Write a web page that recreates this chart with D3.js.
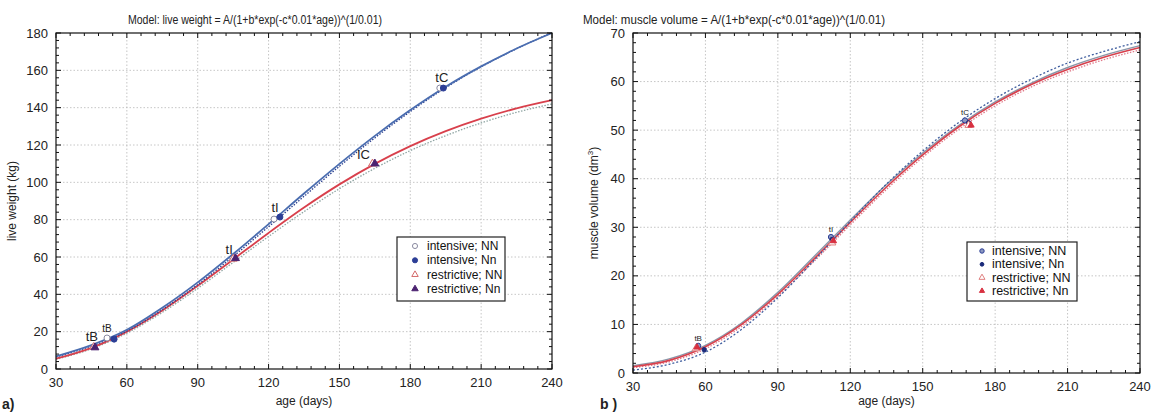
<!doctype html>
<html>
<head>
<meta charset="utf-8"/>
<style>
  body { margin: 0; background: #fff; }
  svg { font-family: "Liberation Sans", Arial, sans-serif; }
  .grid line { stroke: #b8b8b8; stroke-dasharray: 1.5,2; stroke-width: 0.8; }
  .tick-lbl { font-size: 13px; fill: #222; }
</style>
<script src="https://d3js.org/d3.v7.min.js"></script>
</head>
<body>
<svg width="1154" height="413"></svg>
<script>

var ages = [30, 45, 60, 75, 90, 105, 120, 135, 150, 165, 180, 195, 210, 225, 240];

// live weight (kg)
var lwIntNN  = [6.8, 12.8, 21.0, 32.8, 46.4, 61.6, 77.6, 94.0, 109.9, 124.9, 138.7, 151.2, 162.1, 171.7, 180.0];
var lwIntNn  = [6.5, 12.3, 20.3, 31.8, 45.2, 60.3, 76.2, 92.5, 108.6, 123.8, 137.9, 150.7, 161.9, 171.6, 180.2];
var lwResNN  = [5.5, 11.3, 20.0, 31.4, 44.6, 58.7, 72.9, 86.5, 98.9, 109.9, 119.4, 127.4, 134.1, 139.6, 144.0];
var lwResNn  = [5.2, 10.8, 19.2, 30.3, 43.2, 57.1, 71.0, 84.3, 96.6, 107.5, 117.0, 125.0, 131.8, 137.5, 142.0];

// muscle volume (dm3)
var mvIntNN  = [1.5, 2.9, 5.7, 10.3, 16.6, 24.0, 31.5, 38.8, 45.3, 51.0, 55.8, 59.7, 62.9, 65.4, 67.4];
var mvIntNn  = [0.6, 1.8, 4.3, 9.0, 15.5, 23.2, 31.2, 38.9, 45.7, 51.6, 56.5, 60.5, 63.8, 66.2, 68.2];
var mvResNN  = [1.3, 2.6, 5.4, 10.0, 16.2, 23.5, 31.0, 38.3, 44.9, 50.7, 55.5, 59.4, 62.5, 65.0, 67.0];
var mvResNn  = [1.1, 2.3, 5.0, 9.6, 15.8, 23.0, 30.5, 37.8, 44.4, 50.2, 55.0, 58.9, 62.0, 64.5, 66.5];

// characteristic points [age, value] : tB, tI, tC
var lwPtsIntNN = [[51.6, 16.6], [122.3, 80.3], [192.5, 150.5]];
var lwPtsIntNn = [[54.6, 16.0], [124.8, 81.4], [194.0, 150.5]];
var lwPtsResNN = [[46.0, 11.8], [105.0, 59.0], [164.0, 110.0]];
var lwPtsResNn = [[46.5, 11.5], [106.0, 59.3], [165.0, 110.0]];

var mvPtsIntNN = [[57.0, 5.6], [112.0, 28.0], [167.5, 52.0]];
var mvPtsIntNn = [[59.5, 4.8], [112.5, 27.5], [169.0, 51.5]];
var mvPtsResNN = [[56.0, 5.0], [112.5, 26.8], [169.0, 51.0]];
var mvPtsResNn = [[56.5, 5.3], [113.0, 27.2], [170.0, 51.0]];

var legendLabels = ["intensive; NN", "intensive; Nn", "restrictive; NN", "restrictive; Nn"];
var xTicks = [30, 60, 90, 120, 150, 180, 210, 240];
var lwTicks = [0, 20, 40, 60, 80, 100, 120, 140, 160, 180];
var mvTicks = [0, 10, 20, 30, 40, 50, 60, 70];

var svg = d3.select("svg");

function panel(cfg) {
    var g = svg.append("g");
    var x = d3.scaleLinear().domain([30, 240]).range([cfg.L, cfg.R]);
    var y = d3.scaleLinear().domain([0, cfg.ymax]).range([cfg.B, cfg.T]);

    // grid
    var grid = g.append("g").attr("class", "grid");
    grid.selectAll(".gx").data(xTicks.slice(1, -1)).join("line")
        .attr("x1", d => x(d)).attr("x2", d => x(d)).attr("y1", cfg.T).attr("y2", cfg.B);
    grid.selectAll(".gy").data(cfg.yTicks.slice(1, -1)).join("line")
        .attr("y1", d => y(d)).attr("y2", d => y(d)).attr("x1", cfg.L).attr("x2", cfg.R);

    // lines
    var line = d3.line().x(d => x(d[0])).y(d => y(d[1])).curve(d3.curveMonotoneX);
    cfg.series.forEach(function(s) {
        g.append("path")
            .datum(ages.map((a, i) => [a, s.values[i]]))
            .attr("d", line)
            .attr("fill", "none")
            .attr("stroke", s.color)
            .attr("stroke-width", s.width)
            .attr("stroke-dasharray", s.dash || null);
    });

    // frame and inward ticks
    g.append("rect").attr("x", cfg.L).attr("y", cfg.T)
        .attr("width", cfg.R - cfg.L).attr("height", cfg.B - cfg.T)
        .attr("fill", "none").attr("stroke", "#111").attr("stroke-width", 1.2);

    var xMinor = d3.range(30, 240.1, 6);
    var yMinor = d3.range(0, cfg.ymax + 0.01, cfg.yMinorStep);
    var tk = g.append("g").attr("stroke", "#111").attr("stroke-width", 1);
    xMinor.forEach(function(v) {
        var len = (v - 30) % 30 === 0 ? 5 : 3;
        tk.append("line").attr("x1", x(v)).attr("x2", x(v)).attr("y1", cfg.B).attr("y2", cfg.B - len);
        tk.append("line").attr("x1", x(v)).attr("x2", x(v)).attr("y1", cfg.T).attr("y2", cfg.T + len);
    });
    yMinor.forEach(function(v) {
        var len = cfg.yTicks.indexOf(Math.round(v * 100) / 100) >= 0 ? 5 : 3;
        tk.append("line").attr("y1", y(v)).attr("y2", y(v)).attr("x1", cfg.L).attr("x2", cfg.L + len);
        tk.append("line").attr("y1", y(v)).attr("y2", y(v)).attr("x1", cfg.R).attr("x2", cfg.R - len);
    });

    // tick labels
    g.selectAll(".xl").data(xTicks).join("text").attr("class", "tick-lbl")
        .attr("x", d => x(d)).attr("y", cfg.B + 18).attr("text-anchor", "middle").text(d => d);
    g.selectAll(".yl").data(cfg.yTicks).join("text").attr("class", "tick-lbl")
        .attr("x", cfg.L - 8).attr("y", d => y(d) + 4.5).attr("text-anchor", "end").text(d => d);

    // axis titles
    g.append("text").attr("x", (cfg.L + cfg.R) / 2).attr("y", 405)
        .attr("text-anchor", "middle").attr("font-size", 12).attr("fill", "#222").text("age (days)");
    var yt = g.append("text")
        .attr("transform", "translate(" + cfg.yTitleX + "," + (cfg.T + cfg.B) / 2 + ") rotate(-90)")
        .attr("text-anchor", "middle").attr("font-size", 12).attr("fill", "#222");
    yt.append("tspan").text(cfg.yTitle);
    if (cfg.yTitleSup) {
        yt.append("tspan").attr("font-size", 8).attr("dy", -5).text(cfg.yTitleSup);
        yt.append("tspan").attr("dy", 5).text(")");
    }

    // main title
    g.append("text").attr("x", cfg.titleX).attr("y", 24)
        .attr("text-anchor", cfg.titleAnchor).attr("font-size", 12.5).attr("fill", "#222")
        .attr("textLength", cfg.titleLen).attr("lengthAdjust", "spacingAndGlyphs")
        .text(cfg.title);

    // panel letter
    g.append("text").attr("x", cfg.letterX).attr("y", 409)
        .attr("font-size", 14).attr("font-weight", "bold").attr("fill", "#222").text(cfg.letter);

    // markers
    var tri = d3.symbol().type(d3.symbolTriangle);
    cfg.points.forEach(function(p) {
        p.pts.forEach(function(d) {
            if (p.shape === "circle") {
                g.append("circle").attr("cx", x(d[0])).attr("cy", y(d[1])).attr("r", p.size)
                    .attr("fill", p.fill).attr("stroke", p.stroke).attr("stroke-width", 1);
            } else {
                g.append("path").attr("d", tri.size(p.size * p.size * 3)())
                    .attr("transform", "translate(" + x(d[0]) + "," + y(d[1]) + ")")
                    .attr("fill", p.fill).attr("stroke", p.stroke).attr("stroke-width", 1);
            }
        });
    });

    // point labels
    cfg.labels.forEach(function(l) {
        g.append("text").attr("x", x(l.at[0]) + l.dx).attr("y", y(l.at[1]) + l.dy)
            .attr("text-anchor", "middle").attr("font-size", l.size).attr("fill", "#222").text(l.text);
    });

    // legend
    var lg = g.append("g");
    lg.append("rect").attr("x", cfg.leg.x).attr("y", cfg.leg.y).attr("width", cfg.leg.w).attr("height", cfg.leg.h)
        .attr("fill", "#fff").attr("stroke", "#222").attr("stroke-width", 1.2);
    legendLabels.forEach(function(t, i) {
        var p = cfg.points[i];
        var cy = cfg.leg.y + cfg.leg.row0 + i * cfg.leg.step;
        var mx = cfg.leg.x + cfg.leg.mx;
        if (p.shape === "circle") {
            lg.append("circle").attr("cx", mx).attr("cy", cy).attr("r", p.size * 0.85)
                .attr("fill", p.fill).attr("stroke", p.stroke);
        } else {
            lg.append("path").attr("d", tri.size(p.size * p.size * 2)())
                .attr("transform", "translate(" + mx + "," + cy + ")")
                .attr("fill", p.fill).attr("stroke", p.stroke);
        }
        lg.append("text").attr("x", cfg.leg.x + cfg.leg.tx).attr("y", cy + 4)
            .attr("font-size", cfg.leg.fs).attr("fill", "#111").text(t);
    });
}

panel({
    L: 56, R: 552, T: 33, B: 369, ymax: 180, yTicks: lwTicks, yMinorStep: 4,
    yTitle: "live weight (kg)", yTitleX: 16,
    title: "Model: live weight = A/(1+b*exp(-c*0.01*age))^(1/0.01)", titleX: 255, titleAnchor: "middle", titleLen: 254,
    letter: "a)", letterX: 2,
    series: [
        {values: lwResNn, color: "#8fa5a3", width: 1.3, dash: "1.5,1.5"},
        {values: lwResNN, color: "#d8404c", width: 1.8},
        {values: lwIntNn, color: "#2b3f8f", width: 1.3, dash: "1.5,1.5"},
        {values: lwIntNN, color: "#4a6db0", width: 1.8}
    ],
    points: [
        {pts: lwPtsIntNN, shape: "circle", fill: "#fff", stroke: "#8a8aa0", size: 3},
        {pts: lwPtsIntNn, shape: "circle", fill: "#2c3e96", stroke: "#2c3e96", size: 3},
        {pts: lwPtsResNN, shape: "tri", fill: "#fff", stroke: "#d46a6a", size: 3},
        {pts: lwPtsResNn, shape: "tri", fill: "#4b2270", stroke: "#4b2270", size: 3}
    ],
    labels: [
        {text: "tB", at: lwPtsResNN[0], dx: -2, dy: -6, size: 13},
        {text: "tB", at: lwPtsIntNN[0], dx: 0, dy: -6, size: 10},
        {text: "tI", at: lwPtsIntNN[1], dx: 1, dy: -7, size: 13},
        {text: "tI", at: lwPtsResNN[1], dx: -4, dy: -5, size: 13},
        {text: "tC", at: lwPtsIntNN[2], dx: 2, dy: -6, size: 13},
        {text: "IC", at: lwPtsResNN[2], dx: -9, dy: -5, size: 13}
    ],
    leg: {x: 397, y: 237, w: 108, h: 64, row0: 9, step: 14.3, mx: 18, tx: 30, fs: 12}
});

panel({
    L: 633, R: 1140, T: 33, B: 373, ymax: 70, yTicks: mvTicks, yMinorStep: 2,
    yTitle: "muscle volume (dm", yTitleSup: "3", yTitleX: 598,
    title: "Model: muscle volume = A/(1+b*exp(-c*0.01*age))^(1/0.01)", titleX: 583, titleAnchor: "start", titleLen: 302,
    letter: "b )", letterX: 600,
    series: [
        {values: mvResNn, color: "#e07a8a", width: 1.3, dash: "1.5,1.5"},
        {values: mvIntNN, color: "#8a96a8", width: 1.4},
        {values: mvResNN, color: "#d8404c", width: 1.6},
        {values: mvIntNn, color: "#3d5c9e", width: 1.3, dash: "2,2"}
    ],
    points: [
        {pts: mvPtsIntNN, shape: "circle", fill: "#8c98c0", stroke: "#2c3e96", size: 2.6},
        {pts: mvPtsIntNn, shape: "circle", fill: "#1a2a7a", stroke: "#1a2a7a", size: 2.2},
        {pts: mvPtsResNN, shape: "tri", fill: "#fff", stroke: "#e08080", size: 2.8},
        {pts: mvPtsResNn, shape: "tri", fill: "#d83040", stroke: "#d83040", size: 2.4}
    ],
    labels: [
        {text: "tB", at: mvPtsIntNN[0], dx: 0, dy: -5, size: 8},
        {text: "tI", at: mvPtsIntNN[1], dx: 0, dy: -5, size: 8},
        {text: "tC", at: mvPtsIntNN[2], dx: 0, dy: -5, size: 8}
    ],
    leg: {x: 967, y: 242, w: 110, h: 59, row0: 9, step: 13.3, mx: 15, tx: 25, fs: 12.5}
});

</script>
</body>
</html>
